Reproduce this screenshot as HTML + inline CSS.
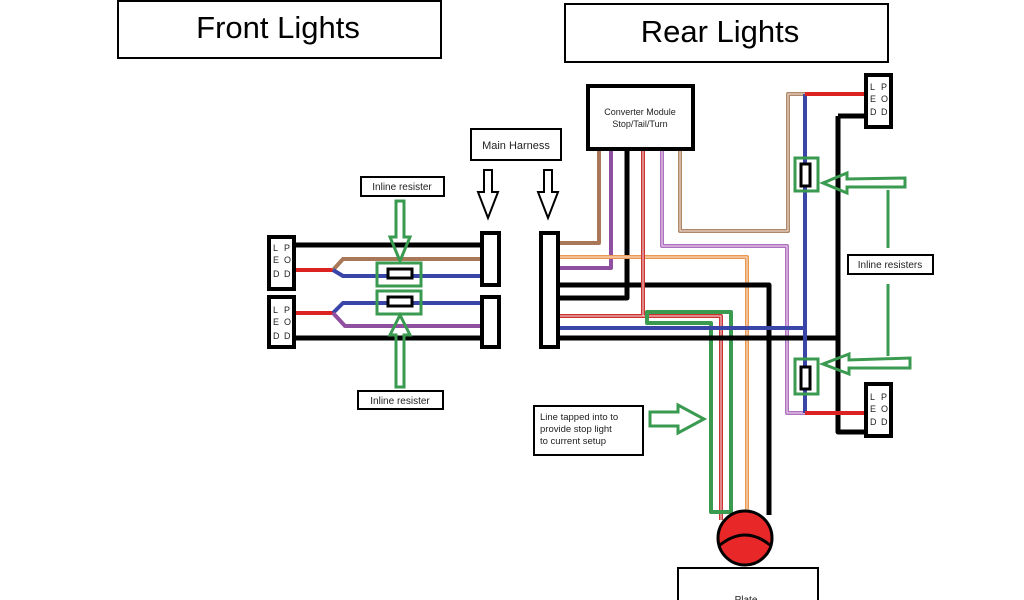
<!DOCTYPE html><html><head><style>body{margin:0;background:#fff}svg{display:block}</style></head><body>
<svg width="1024" height="600" xmlns="http://www.w3.org/2000/svg" font-family="Liberation Sans, sans-serif">
<rect width="1024" height="600" fill="#fff"/>
<rect x="118" y="1" width="323" height="57" fill="none" stroke="#000" stroke-width="2"/>
<text x="278" y="38" font-size="31" text-anchor="middle">Front   Lights</text>
<rect x="565" y="4" width="323" height="58" fill="none" stroke="#000" stroke-width="2"/>
<text x="720" y="42" font-size="31" text-anchor="middle">Rear Lights</text>
<g fill="none" stroke-linejoin="round">
<!-- front wires -->
<path d="M294 245H481M294 338H481" stroke="#000" stroke-width="5"/>
<path d="M294 270H333M294 313H333" stroke="#d22" stroke-width="4"/>
<path d="M333 270L343 259H481" stroke="#a87858" stroke-width="4"/>
<path d="M333 270L343 276H481M333 313L343 303H481" stroke="#3a45a8" stroke-width="4"/>
<path d="M333 313L345 326H481" stroke="#9050a0" stroke-width="4"/>
<!-- rear wires -->
<path d="M599 149V243H558" stroke="#a87858" stroke-width="4"/>
<path d="M611 149V268H558" stroke="#9050a0" stroke-width="4"/>
<path d="M627 149V298H558" stroke="#000" stroke-width="5"/>
<path d="M558 257H747V515" stroke="#e89850" stroke-width="4"/>
<path d="M558 257H747V515" stroke="#fbe8d8" stroke-width="1"/>
<path d="M558 285H769V515" stroke="#000" stroke-width="5"/>
<path d="M643 149V316H558M643 316H721V520" stroke="#c33" stroke-width="4"/>
<path d="M643 149V316H558M643 316H721V520" stroke="#f6dcdc" stroke-width="1"/>
<path d="M662 149V246H787V413H805" stroke="#b070c0" stroke-width="4"/>
<path d="M662 149V246H787V413H805" stroke="#f0e0f4" stroke-width="1"/>
<path d="M680 149V231H788V94H807" stroke="#b08868" stroke-width="4"/>
<path d="M680 149V231H788V94H807" stroke="#f4e8e0" stroke-width="1"/>
<path d="M647 312H731V512H711V323H647Z" stroke="#3a9a50" stroke-width="4"/>
<path d="M558 328H805" stroke="#3a45a8" stroke-width="4"/>
<path d="M558 338H838M838 116V432H865M838 116H865" stroke="#000" stroke-width="5"/>
<path d="M805 94V413" stroke="#3a45a8" stroke-width="4"/>
<path d="M805 94H865M805 413H865" stroke="#d22" stroke-width="4"/>
</g>
<!-- pods -->
<g fill="#fff" stroke="#000" stroke-width="4">
<rect x="269" y="237" width="25" height="52"/><rect x="269" y="297" width="25" height="50"/>
<rect x="482" y="233" width="17" height="52"/><rect x="482" y="297" width="17" height="50"/>
<rect x="541" y="233" width="17" height="114"/>
<rect x="866" y="75" width="25" height="52"/><rect x="866" y="384" width="25" height="52"/>
<rect x="588" y="86" width="105" height="63"/>
</g>
<g font-size="9" fill="#222">
<text x="273" y="251">L</text><text x="284" y="251">P</text><text x="273" y="263">E</text><text x="284" y="263">O</text><text x="273" y="277">D</text><text x="284" y="277">D</text>
<text x="273" y="313">L</text><text x="284" y="313">P</text><text x="273" y="325">E</text><text x="284" y="325">O</text><text x="273" y="339">D</text><text x="284" y="339">D</text>
<text x="870" y="90">L</text><text x="881" y="90">P</text><text x="870" y="102">E</text><text x="881" y="102">O</text><text x="870" y="115">D</text><text x="881" y="115">D</text>
<text x="870" y="400">L</text><text x="881" y="400">P</text><text x="870" y="412">E</text><text x="881" y="412">O</text><text x="870" y="425">D</text><text x="881" y="425">D</text>
<text x="640" y="115" text-anchor="middle">Converter Module</text><text x="640" y="127" text-anchor="middle">Stop/Tail/Turn</text>
</g>
<!-- resistors -->
<g stroke="#3a9a50" stroke-width="3" fill="none">
<rect x="377" y="263" width="44" height="23"/><rect x="377" y="291" width="44" height="23"/>
<rect x="795" y="158" width="23" height="33"/><rect x="795" y="359" width="23" height="35"/>
<path d="M396 201h8v36l6 0-10 24-10-24h6z"/>
<path d="M396 387h8v-52l6 0-10-20-10 20h6z"/>
<path d="M905 178v9h-58v6l-24-10 24-10v6z"/>
<path d="M910 358v10h-61v6l-26-10 26-10v6z"/>
<path d="M650 412h28v-7l26 14-26 14v-7h-28z"/>
<path d="M888 190V248M888 284V356"/>
</g>
<g fill="#fff" stroke="#000" stroke-width="3">
<rect x="388" y="269" width="24" height="9"/><rect x="388" y="297" width="24" height="9"/>
<rect x="801" y="164" width="9" height="22"/><rect x="801" y="367" width="9" height="22"/>
</g>
<!-- harness arrows -->
<g fill="#fff" stroke="#000" stroke-width="2">
<path d="M484 170h8v22h6l-10 26-10-26h6z"/><path d="M544 170h8v22h6l-10 26-10-26h6z"/>
<rect x="471" y="129" width="90" height="31"/>
<rect x="361" y="177" width="83" height="19"/><rect x="358" y="391" width="85" height="18"/>
<rect x="848" y="255" width="85" height="19"/>
<rect x="534" y="406" width="109" height="49"/>
<rect x="678" y="568" width="140" height="40"/>
</g>
<g font-size="10" fill="#222">
<text x="516" y="149" text-anchor="middle" font-size="11">Main Harness</text>
<text x="402" y="190" text-anchor="middle">Inline resister</text>
<text x="400" y="404" text-anchor="middle">Inline resister</text>
<text x="890" y="268" text-anchor="middle">Inline resisters</text>
<text x="540" y="420" font-size="9.5">Line tapped into to</text>
<text x="540" y="432" font-size="9.5">provide stop light</text>
<text x="540" y="444" font-size="9.5">to current setup</text>
<text x="746" y="603" text-anchor="middle">Plate</text>
</g>
<circle cx="745" cy="538" r="27" fill="#e82828" stroke="#000" stroke-width="3"/>
<path d="M720 545Q745 525 770 545" fill="none" stroke="#000" stroke-width="3"/>
</svg></body></html>
